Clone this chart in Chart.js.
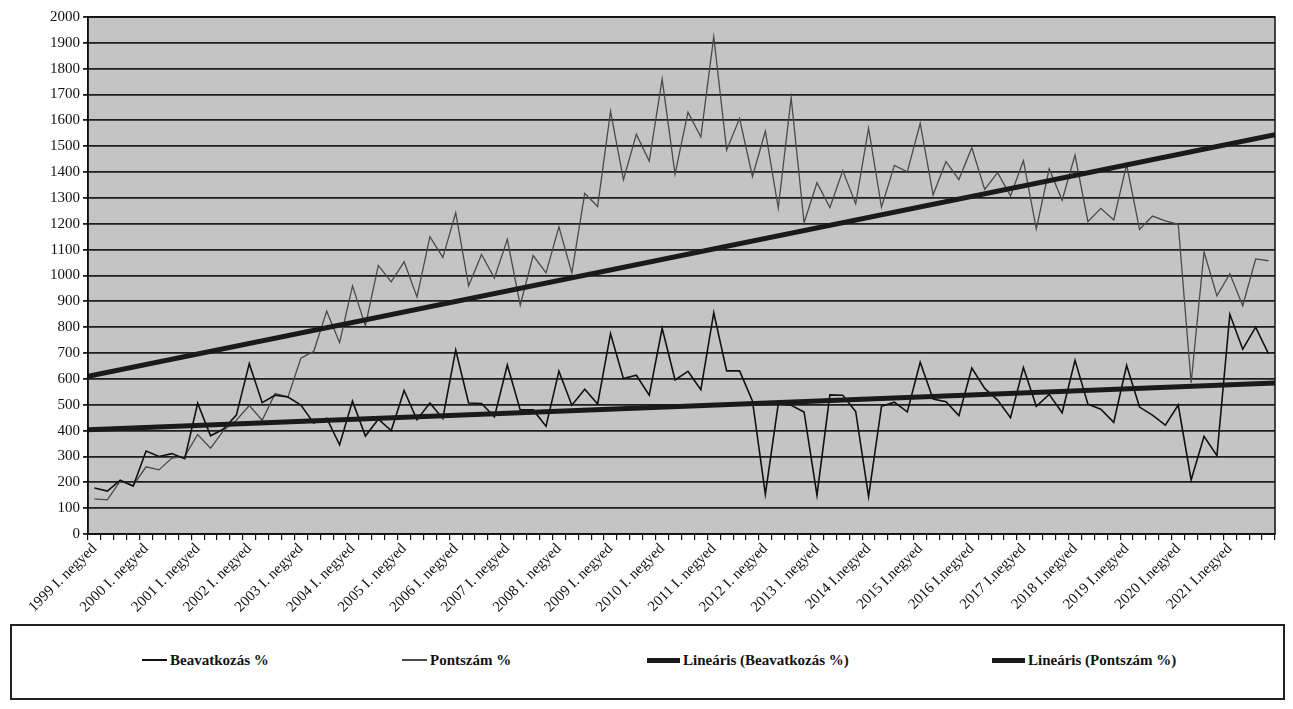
<!DOCTYPE html>
<html>
<head>
<meta charset="utf-8">
<script src="https://cdn.jsdelivr.net/npm/chart.js@4.4.0/dist/chart.umd.min.js"></script>
<style>
  body { margin: 0; background: #fff; width: 1293px; height: 709px; overflow: hidden; position: relative; font-family: "Times New Roman", "Liberation Serif", "DejaVu Serif", serif; }
  #c { position: absolute; left: 0; top: 0; }
  #legend { position: absolute; left: 10px; top: 624px; width: 1275px; height: 76px; border: 2px solid #222; box-sizing: border-box; }
  .item { position: absolute; top: 24px; height: 20px; display: flex; align-items: center; font-weight: bold; font-size: 15px; color: #111; white-space: nowrap; font-family: "Times New Roman", "Liberation Serif", serif; }
  .sample { display: inline-block; margin-right: 3px; }
</style>
</head>
<body>
<canvas id="c" width="1293" height="622"></canvas>
<div id="legend"></div>
<script>
// tick labels, one per year (first quarter)
const tickLabels = [
  "1999 I. negyed", "2000 I. negyed", "2001 I. negyed", "2002 I. negyed", "2003 I. negyed",
  "2004 I. negyed", "2005 I. negyed", "2006 I. negyed", "2007 I. negyed", "2008 I. negyed",
  "2009 I. negyed", "2010 I. negyed", "2011 I. negyed", "2012 I. negyed", "2013 I. negyed",
  "2014 I.negyed", "2015 I.negyed", "2016 I.negyed", "2017 I.negyed", "2018 I.negyed",
  "2019 I.negyed", "2020 I.negyed", "2021 I.negyed"
];
const quarterNames = ["I.", "II.", "III.", "IV."];

// quarterly values, 1999 Q1 .. 2021 Q4
const beavatkozas = [
  178, 166, 208, 185, 321, 300, 311, 291, 506, 380, 406, 460,
  659, 508, 537, 530, 499, 429, 448, 345, 514, 379, 444, 400,
  555, 442, 507, 447, 712, 507, 505, 453, 654, 480, 480, 417,
  630, 498, 560, 503, 775, 601, 614, 537, 796, 596, 629, 558,
  856, 631, 631, 515, 154, 503, 498, 472, 150, 538, 537, 474,
  145, 494, 510, 472, 664, 522, 512, 458, 642, 563, 518, 450,
  644, 494, 540, 469, 672, 502, 483, 432, 652, 491, 460, 421,
  499, 209, 378, 303, 850, 715, 800, 697
];
const pontszam = [
  136, 132, 205, 188, 260, 248, 294, 300, 385, 332, 400, 440,
  497, 440, 543, 530, 680, 707, 862, 740, 960, 806, 1039, 975,
  1053, 917, 1150, 1070, 1242, 960, 1081, 990, 1140, 885, 1077, 1010,
  1188, 1010, 1318, 1267, 1635, 1371, 1546, 1443, 1760, 1392, 1632, 1536,
  1924, 1485, 1608, 1383, 1558, 1261, 1688, 1204, 1359, 1263, 1406, 1277,
  1570, 1264, 1426, 1401, 1589, 1312, 1441, 1371, 1494, 1333, 1398, 1308,
  1444, 1180, 1413, 1291, 1466, 1208, 1260, 1215, 1429, 1178, 1230, 1211,
  1198, 584, 1091, 921, 1007, 883, 1064, 1057
];

// linear trend end points (category units, edge to edge)
const trendX = [-0.5, 91.5];
const trendBeavatkozas = [403, 584];
const trendPontszam = [610, 1545];

const quarters = [];
tickLabels.forEach(function(t) {
  const year = t.slice(0, 4);
  quarterNames.forEach(function(q) { quarters.push(year + " " + q + " negyed"); });
});

function trendPoints(ys) {
  return trendX.map(function(x, i) { return { x: x, y: ys[i] }; });
}

const serif = "'Times New Roman', 'Liberation Serif', serif";

const plotFrame = {
  id: "plotFrame",
  beforeDraw: function(chart) {
    const a = chart.chartArea, ctx = chart.ctx;
    ctx.save();
    ctx.fillStyle = "#c4c4c4";
    ctx.fillRect(a.left, a.top, a.right - a.left, a.bottom - a.top);
    ctx.restore();
  },
  afterDraw: function(chart) {
    const a = chart.chartArea, ctx = chart.ctx;
    ctx.save();
    ctx.strokeStyle = "#111";
    ctx.lineWidth = 1.5;
    ctx.strokeRect(a.left, a.top, a.right - a.left, a.bottom - a.top);
    ctx.restore();
  }
};

const datasets = [
  { label: "Beavatkozás %", data: beavatkozas, borderColor: "#111", borderWidth: 1.6, pointRadius: 0, order: 1, sample: [25, 2] },
  { label: "Pontszám %", data: pontszam, borderColor: "#4a4a4a", borderWidth: 1.3, pointRadius: 0, order: 1, sample: [25, 1.5] },
  { label: "Lineáris (Beavatkozás %)", data: trendPoints(trendBeavatkozas), xAxisID: "xt", borderColor: "#1a1a1a", borderWidth: 5, pointRadius: 0, order: 0, sample: [33, 5] },
  { label: "Lineáris (Pontszám %)", data: trendPoints(trendPontszam), xAxisID: "xt", borderColor: "#1a1a1a", borderWidth: 5, pointRadius: 0, order: 0, sample: [33, 5] }
];

const chart = new Chart(document.getElementById("c"), {
  type: "line",
  data: { labels: quarters, datasets: datasets },
  options: {
    responsive: false,
    animation: false,
    layout: { padding: { left: 0, top: 17, right: 18, bottom: 0 } },
    plugins: { legend: { display: false }, tooltip: { enabled: false } },
    scales: {
      x: {
        type: "category",
        offset: true,
        grid: { offset: true, drawOnChartArea: false, color: "#111", lineWidth: 1.2, tickLength: 6 },
        border: { color: "#111", width: 1.5 },
        ticks: {
          autoSkip: false, minRotation: 45, maxRotation: 45, padding: 0,
          color: "#111", font: { family: serif, size: 15 },
          callback: function(v, i) { return i % 4 === 0 ? tickLabels[i / 4] : ""; }
        },
        afterFit: function(s) { s.height = 88; }
      },
      xt: { type: "linear", min: -0.5, max: 91.5, display: false },
      y: {
        min: 0, max: 2000,
        grid: { color: "#1e1e1e", lineWidth: 1.8, tickLength: 5 },
        border: { color: "#111", width: 1.5 },
        ticks: {
          stepSize: 100, color: "#111", padding: 3, font: { family: serif, size: 15 },
          callback: function(v) { return String(v); }
        },
        afterFit: function(s) { s.width = 88; }
      }
    }
  },
  plugins: [plotFrame]
});

// legend built from the chart's datasets
const legendPos = [130, 390, 635, 980];
const legend = document.getElementById("legend");
chart.data.datasets.forEach(function(ds, i) {
  const item = document.createElement("div");
  item.className = "item";
  item.style.left = legendPos[i] + "px";
  const s = document.createElement("span");
  s.className = "sample";
  s.style.width = ds.sample[0] + "px";
  s.style.height = ds.sample[1] + "px";
  s.style.background = ds.borderColor;
  item.appendChild(s);
  item.appendChild(document.createTextNode(ds.label));
  legend.appendChild(item);
});
</script>
</body>
</html>
